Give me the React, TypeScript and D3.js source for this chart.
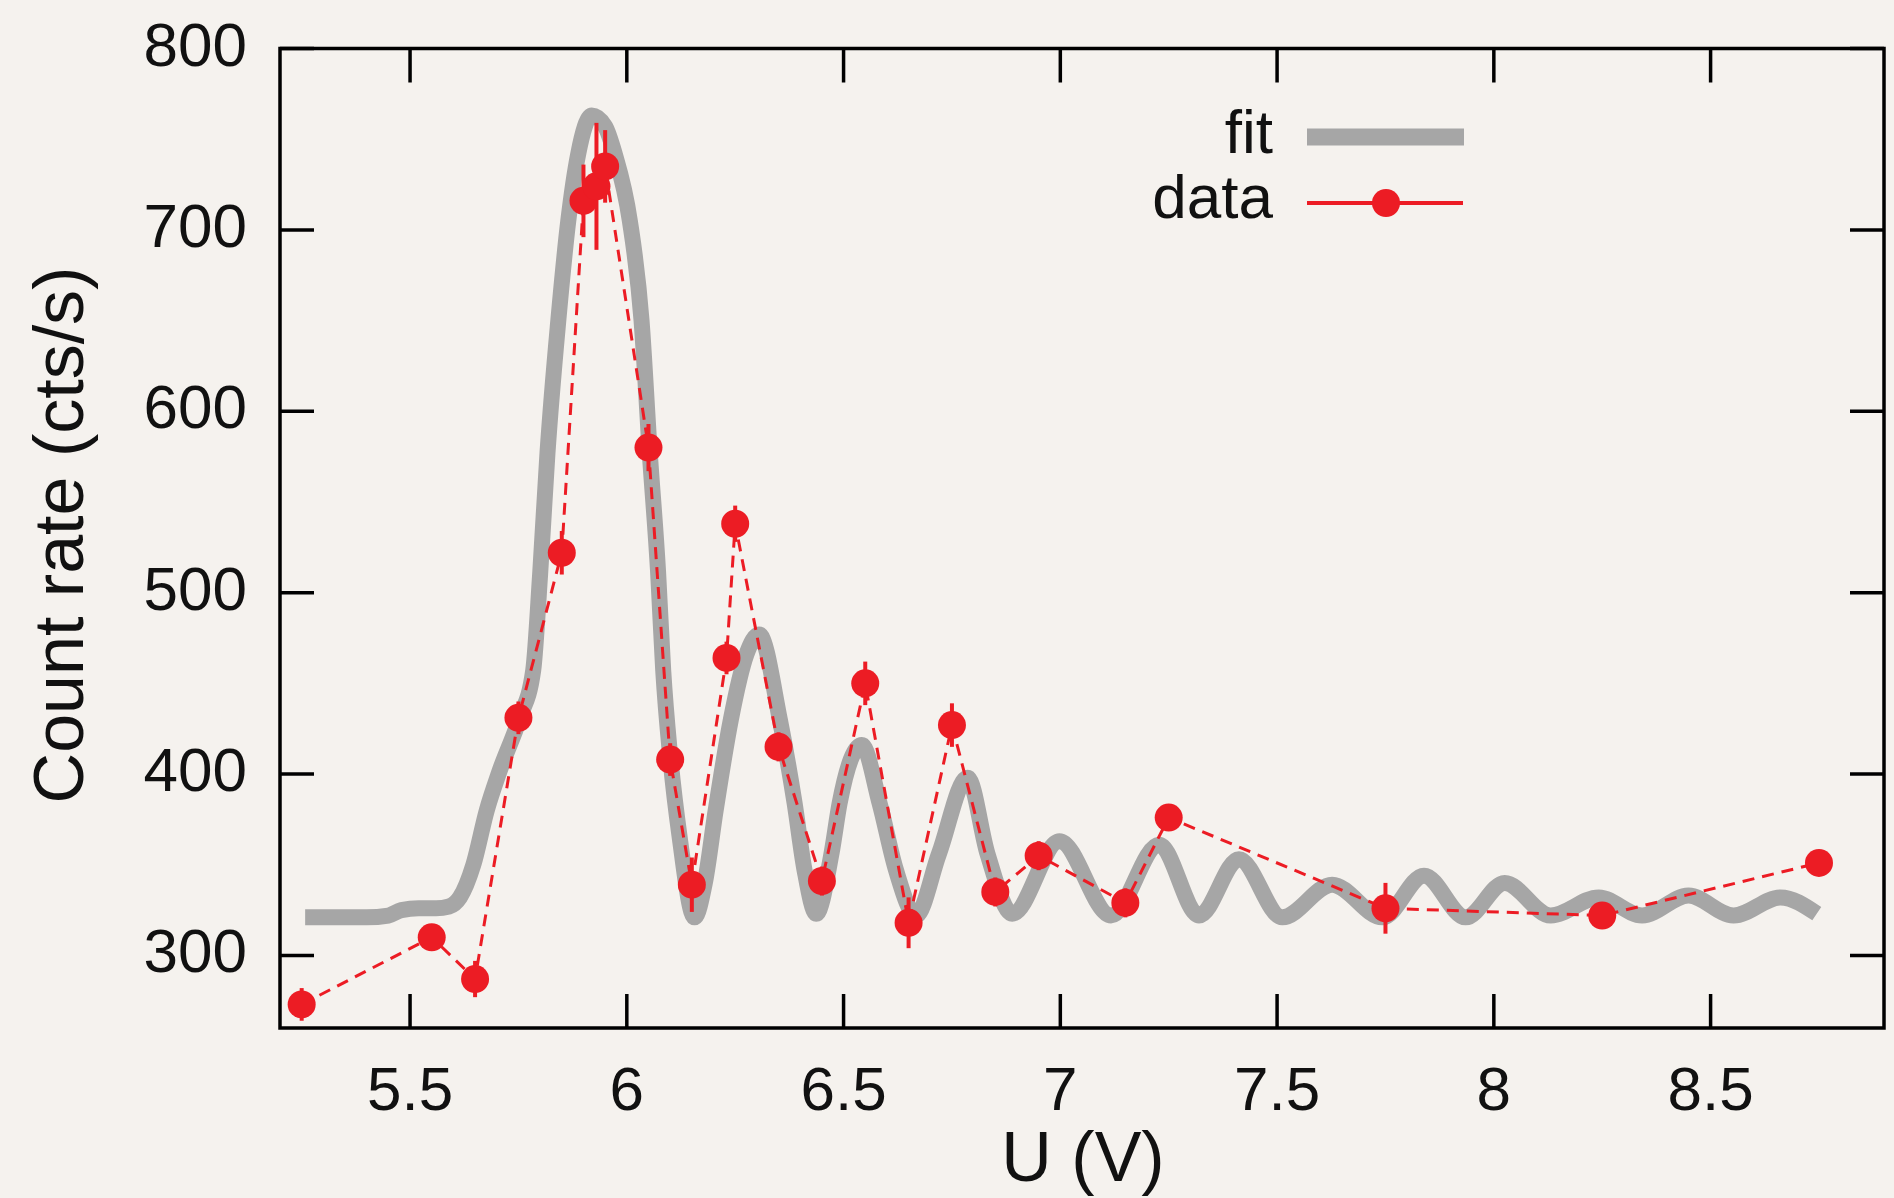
import React from "react";
import * as d3 from "d3";

// ---------- data ----------
const dataU = [5.25, 5.55, 5.65, 5.75, 5.85, 5.9, 5.93, 5.95, 6.05, 6.1, 6.15, 6.23, 6.25, 6.35, 6.45, 6.55, 6.65, 6.75, 6.85, 6.95, 7.15, 7.25, 7.75, 8.25, 8.75];
const dataRate = [273, 310, 287, 431, 522, 716, 724, 735, 580, 408, 339, 464, 538, 415, 341, 450, 318, 427, 335, 355, 329, 376, 326, 322, 351];
const dataErr = [9, 7, 10, 9, 12, 20, 35, 20, 13, 9, 15, 9, 10, 8, 8, 12, 14, 12, 8, 8, 8, 6, 14, 6, 6];

const fitU = [
  5.258, 5.3, 5.35, 5.4, 5.45, 5.48, 5.52, 5.56, 5.59, 5.615, 5.646, 5.677, 5.707, 5.753, 5.784, 5.8,
  5.817, 5.842, 5.865, 5.888, 5.919, 5.95, 5.972, 6.007, 6.034, 6.053, 6.072, 6.084, 6.1, 6.122, 6.156,
  6.18, 6.205, 6.24, 6.276, 6.305, 6.353, 6.387, 6.41, 6.437, 6.472, 6.491, 6.542, 6.583, 6.621, 6.667,
  6.72, 6.786, 6.832, 6.889, 6.998, 7.117, 7.228, 7.32, 7.412, 7.512, 7.627, 7.743, 7.839, 7.935, 8.025,
  8.131, 8.242, 8.342, 8.449, 8.553, 8.661, 8.745,
];
const fitRate = [
  321, 321, 321, 321, 322, 325, 326, 326, 327, 332, 350, 380, 402, 431, 457, 510,
  577, 650, 705, 742, 763, 757, 742, 705, 650, 577, 512, 457, 410, 365, 321,
  340, 380, 430, 466, 477, 430, 384, 347, 323, 356, 384, 416, 384, 347, 322,
  356, 398, 356, 323, 363, 322, 361, 322, 353, 321, 339, 321, 344, 321, 340,
  322, 332, 322, 333, 322, 332, 323,
];

const xTicks = [5.5, 6, 6.5, 7, 7.5, 8, 8.5];
const yTicks = [300, 400, 500, 600, 700, 800];
const legendLabels = ["fit", "data"];

// ---------- layout ----------
const W = 1894;
const H = 1198;
const L = 280;
const R = 1884;
const T = 48.5;
const B = 1028;
const FONT = "'Liberation Sans', Arial, Helvetica, sans-serif";
const GRAY = "#a6a6a6";
const RED = "#ec1c24";

export default function App() {
  const x = d3.scaleLinear().domain([5.2, 8.9]).range([L, R]);
  const y = d3.scaleLinear().domain([260, 800]).range([B, T]);

  const fitPts: [number, number][] = fitU.map((u, i) => [u, fitRate[i]]);
  const dataPts: [number, number][] = dataU.map((u, i) => [u, dataRate[i]]);

  const fitLine = d3
    .line<[number, number]>()
    .x((d) => x(d[0]))
    .y((d) => y(d[1]))
    .curve(d3.curveMonotoneX);
  const dataLine = d3
    .line<[number, number]>()
    .x((d) => x(d[0]))
    .y((d) => y(d[1]));

  const tickLen = 34;

  return (
    <svg
      width={W}
      height={H}
      style={{ position: "absolute", left: 0, top: 0, display: "block" }}
      fontFamily={FONT}
    >
      <rect x={0} y={0} width={W} height={H} fill="#f5f2ee" />

      {/* fit curve */}
      <path
        d={fitLine(fitPts) || ""}
        fill="none"
        stroke={GRAY}
        strokeWidth={16}
        strokeLinejoin="round"
      />

      {/* data dashed line */}
      <path
        d={dataLine(dataPts) || ""}
        fill="none"
        stroke={RED}
        strokeWidth={3}
        strokeDasharray="12,8"
      />

      {/* error bars */}
      {dataU.map((u, i) => (
        <line
          key={"e" + i}
          x1={x(u)}
          x2={x(u)}
          y1={y(dataRate[i] - dataErr[i])}
          y2={y(dataRate[i] + dataErr[i])}
          stroke={RED}
          strokeWidth={4}
        />
      ))}

      {/* points */}
      {dataU.map((u, i) => (
        <circle key={"p" + i} cx={x(u)} cy={y(dataRate[i])} r={14} fill={RED} />
      ))}

      {/* ticks */}
      {xTicks.map((t) => (
        <g key={"xt" + t}>
          <line x1={x(t)} x2={x(t)} y1={B} y2={B - tickLen} stroke="#000" strokeWidth={3.5} />
          <line x1={x(t)} x2={x(t)} y1={T} y2={T + tickLen} stroke="#000" strokeWidth={3.5} />
          <text x={x(t)} y={1110} fontSize={62} textAnchor="middle" fill="#111">
            {String(t)}
          </text>
        </g>
      ))}
      {yTicks.map((t) => (
        <g key={"yt" + t}>
          <line x1={L} x2={L + tickLen} y1={y(t)} y2={y(t)} stroke="#000" strokeWidth={3.5} />
          <line x1={R} x2={R - tickLen} y1={y(t)} y2={y(t)} stroke="#000" strokeWidth={3.5} />
          <text x={247} y={y(t) + 17} fontSize={62} textAnchor="end" fill="#111">
            {String(t)}
          </text>
        </g>
      ))}

      {/* frame */}
      <rect x={L} y={T} width={R - L} height={B - T} fill="none" stroke="#000" strokeWidth={3.5} />

      {/* axis labels */}
      <text x={1083} y={1181} fontSize={70} textAnchor="middle" fill="#111">
        U (V)
      </text>
      <text
        transform={`translate(83, 535) rotate(-90)`}
        fontSize={70}
        textAnchor="middle"
        fill="#111"
      >
        Count rate (cts/s)
      </text>

      {/* legend */}
      <text x={1273} y={153} fontSize={62} textAnchor="end" fill="#111">
        {legendLabels[0]}
      </text>
      <line x1={1307} x2={1464} y1={137} y2={137} stroke={GRAY} strokeWidth={17} />
      <text x={1273} y={218} fontSize={62} textAnchor="end" fill="#111">
        {legendLabels[1]}
      </text>
      <line x1={1307} x2={1463} y1={203} y2={203} stroke={RED} strokeWidth={4} />
      <circle cx={1386} cy={203} r={14} fill={RED} />
    </svg>
  );
}
